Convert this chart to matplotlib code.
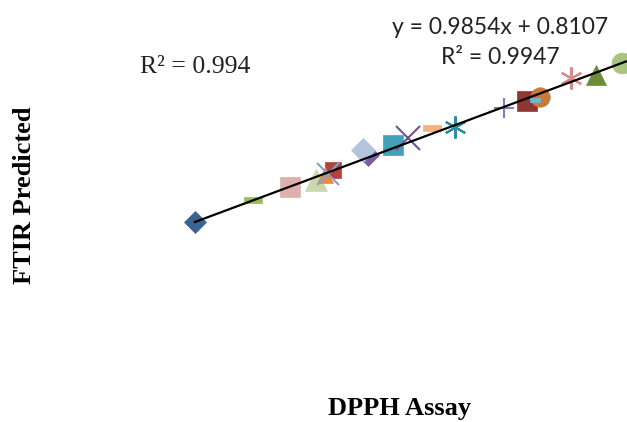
import numpy as np
import matplotlib
matplotlib.use("Agg")
import matplotlib.pyplot as plt

# Data (DPPH assay vs FTIR predicted)
dpph = [10.0, 12.9, 14.75, 16.05, 16.9, 16.5, 16.65, 18.65, 18.4, 19.9, 20.65,
        21.85, 23.0, 25.45, 26.6, 27.25, 27.0, 28.8, 30.05, 31.35]
ftir = [10.66, 13.57, 15.29, 16.22, 17.54, 16.88, 17.01, 19.52, 20.18, 20.85, 21.77,
        23.09, 23.23, 25.74, 26.67, 27.19, 26.80, 29.71, 30.10, 31.69]
slope, intercept = 0.9854, 0.8107
eq_label = "y = 0.9854x + 0.8107"
r2_label = "R² = 0.9947"
r2_other = "R² = 0.994"

bar = [(-1, -0.3), (1, -0.3), (1, 0.3), (-1, 0.3), (-1, -0.3)]
small_bar = [(-1, -0.45), (1, -0.45), (1, 0.45), (-1, 0.45), (-1, -0.45)]
markers = ['D', bar, 's', '^', 's', '^', 'x', 'D', 'D', 's', 'x',
           bar, (6, 2, 0), '+', 's', 'o', small_bar, (6, 2, 0), '^', 'o']
colors = ['#3A6293', '#9BBB59', '#DDAFAE', '#C9D9AD', '#B7403D', '#F0883A', '#7FA2D2',
          '#7A5FA0', '#B3C4DF', '#42A0B8', '#6F5496', '#F8B07F', '#2F8DA3', '#8F78B4',
          '#923634', '#C87A34', '#72B8D2', '#D58A89', '#6E8B37', '#A8C57E']
sizes = [11, 13, 14, 16, 11, 12, 16, 11, 12, 15, 17, 13, 16, 15, 15, 14, 7, 16, 15, 15]

fig = plt.figure(figsize=(6.27, 4.22), dpi=100)
ax = fig.add_axes([0, 0, 1, 1])
ax.set_xlim(0.25, 31.6)
ax.set_ylim(-15.80, 40.03)
ax.axis('off')

for x, y, m, c, s in zip(dpph, ftir, markers, colors, sizes):
    lw = 1.5 if m in ('x', '+') or isinstance(m, tuple) else 0
    ax.plot([x], [y], marker=m, color=c, markersize=s, linestyle='none',
            markeredgewidth=lw if lw else 0.5, markeredgecolor=c)

xs = np.array([min(dpph), max(dpph) + 0.2])
ax.plot(xs, slope * xs + intercept, color='black', linewidth=1.6)

fig.text(500 / 627, 1 - 28 / 422, eq_label, ha='center', va='center',
         fontsize=16.5, family='Lato', color='#222222')
fig.text(500 / 627, 1 - 58 / 422, r2_label, ha='center', va='center',
         fontsize=16.5, family='Lato', color='#222222')
fig.text(195 / 627, 1 - 67 / 422, r2_other, ha='center', va='center',
         fontsize=18.5, family='Liberation Serif', color='#222222')
fig.text(25 / 627, 1 - 195 / 422, "FTIR Predicted", ha='center', va='center',
         rotation=90, fontsize=19, family='Liberation Serif', fontweight='bold')
fig.text(400 / 627, 1 - 409 / 422, "DPPH Assay", ha='center', va='center',
         fontsize=19, family='Liberation Serif', fontweight='bold')

fig.savefig("out.png", dpi=100)
